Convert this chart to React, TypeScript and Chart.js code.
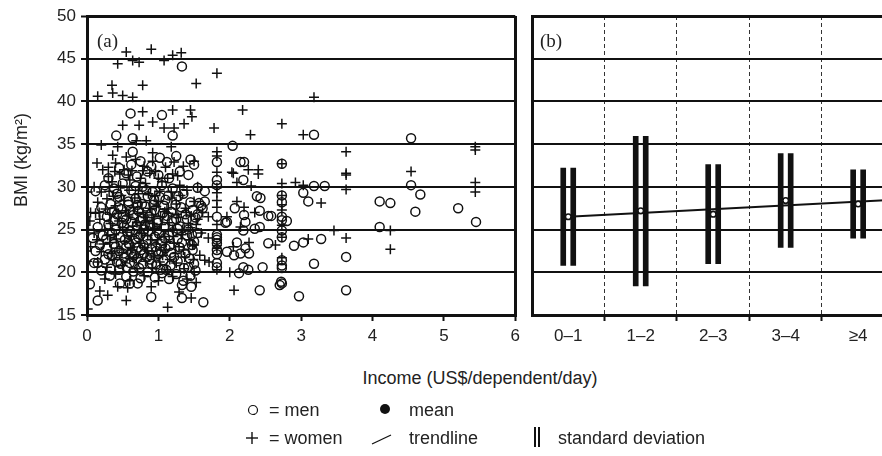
import React, { useEffect, useRef } from 'react';
import { Chart, registerables } from 'chart.js';

Chart.register(...registerables);

// ---------- Panel (a) data: income (US$/dependent/day) vs BMI ----------
const menPoints: [number, number][] = [
  [1.33, 44.1], [0.61, 38.6], [1.05, 38.4], [1.2, 36.0], [0.41, 36.0], [0.64, 35.7], [0.64, 34.1],
  [2.04, 34.8], [2.2, 32.9], [2.73, 32.7], [3.18, 36.1], [4.54, 35.7], [4.54, 30.2], [4.67, 29.1],
  [3.18, 30.1], [3.33, 30.1], [3.03, 29.3], [3.1, 28.3], [4.1, 28.3], [4.25, 28.1], [4.6, 27.1],
  [5.2, 27.5], [5.45, 25.9], [4.1, 25.3], [3.28, 23.9], [3.03, 23.5], [2.9, 23.1], [3.63, 21.8],
  [3.18, 21.0], [3.63, 17.9], [2.97, 17.2], [2.73, 18.7], [2.72, 18.9], [2.73, 29.0], [2.73, 28.2],
  [2.73, 26.5], [2.73, 26.1], [2.73, 24.9], [2.73, 24.1], [2.73, 21.4], [2.73, 20.8], [2.73, 20.5],
  [2.8, 26.0], [2.38, 28.9], [2.43, 28.7], [2.42, 27.2], [2.54, 26.6], [2.58, 26.6], [2.42, 25.3],
  [2.54, 23.4], [2.46, 20.6], [2.42, 17.9], [2.7, 18.5],
  [1.82, 32.9], [1.82, 30.8], [1.82, 30.2], [1.82, 26.5], [1.82, 24.4], [1.82, 24.1], [1.82, 23.8],
  [1.82, 23.4], [1.82, 22.6], [1.82, 22.1], [1.82, 21.1], [1.82, 20.6],
  [1.96, 22.4], [2.06, 22.0], [2.15, 22.2], [2.22, 22.8], [2.27, 22.2], [2.19, 24.9], [2.19, 20.6],
  [2.13, 19.9], [2.26, 20.3], [1.63, 16.5], [1.33, 17.0], [1.33, 18.5], [1.46, 18.3], [1.96, 25.9],
  [2.22, 25.9], [1.47, 23.2], [0.04, 18.6], [0.15, 16.7], [0.46, 18.7], [0.6, 18.7], [0.71, 18.7],
  [0.9, 17.1], [0.15, 21.1], [2.15, 32.9], [2.19, 30.8], [1.94, 25.8], [2.35, 25.1], [2.1, 23.5],
  [1.57, 28.1], [1.65, 28.3], [1.55, 26.8], [1.62, 27.5], [2.07, 27.5], [2.2, 26.7],
  [0.45, 32.2], [0.62, 32.6], [0.75, 33.0], [0.9, 32.4], [1.02, 33.4], [1.12, 32.9], [1.25, 33.6],
  [1.45, 33.2], [1.5, 32.6], [0.3, 31.0], [0.55, 31.6], [0.7, 31.2], [0.85, 31.8], [1.0, 31.4],
  [1.15, 31.0], [1.3, 31.8], [1.42, 31.4],
  [0.12, 29.5], [0.25, 30.2], [0.38, 29.8], [0.5, 30.4], [0.62, 29.6], [0.78, 30.0], [0.92, 29.4],
  [1.05, 30.2], [1.2, 29.8], [1.35, 29.2], [1.55, 29.9], [1.65, 29.5], [0.45, 28.8], [0.68, 28.6],
  [0.85, 28.9], [1.1, 28.5], [1.28, 28.9], [1.45, 28.2],
  [0.2, 27.6], [0.33, 28.0], [0.48, 27.4], [0.58, 27.9], [0.72, 27.2], [0.82, 27.7], [0.95, 27.3],
  [1.08, 27.8], [1.18, 27.1], [1.32, 27.6], [1.48, 27.3], [1.6, 27.8], [0.28, 26.5], [0.42, 26.8],
  [0.55, 26.2], [0.65, 26.7], [0.78, 26.3], [0.9, 26.9], [1.0, 26.1], [1.12, 26.6], [1.25, 26.2],
  [1.38, 26.8], [1.52, 26.4],
  [0.15, 25.3], [0.3, 25.6], [0.4, 25.0], [0.52, 25.4], [0.6, 24.8], [0.7, 25.5], [0.8, 25.0],
  [0.88, 25.6], [0.98, 24.9], [1.08, 25.3], [1.2, 24.7], [1.3, 25.4], [1.42, 25.0], [1.55, 24.6],
  [0.22, 24.3], [0.35, 24.6], [0.47, 24.1], [0.57, 24.5], [0.67, 23.9], [0.75, 24.4], [0.85, 23.8],
  [0.95, 24.2], [1.05, 23.7], [1.15, 24.3], [1.27, 23.9], [1.4, 24.3], [1.5, 23.6],
  [0.18, 23.2], [0.28, 22.8], [0.38, 23.3], [0.45, 22.5], [0.55, 23.0], [0.62, 22.3], [0.72, 22.9],
  [0.8, 22.2], [0.9, 22.7], [1.0, 22.1], [1.1, 22.8], [1.18, 22.3], [1.3, 22.9], [1.38, 22.2],
  [1.48, 22.6], [0.25, 21.5], [0.35, 21.9], [0.42, 21.2], [0.52, 21.7], [0.6, 21.1], [0.7, 21.6],
  [0.78, 21.0], [0.88, 21.5], [0.97, 20.9], [1.07, 21.4], [1.17, 20.8], [1.27, 21.3], [1.42, 20.6],
  [1.5, 21.0],
  [0.2, 20.2], [0.32, 19.6], [0.45, 20.3], [0.55, 19.5], [0.65, 20.1], [0.75, 19.3], [0.85, 20.0],
  [0.95, 19.4], [1.05, 19.9], [1.15, 19.2], [1.25, 19.8], [1.35, 19.0], [1.45, 19.6], [0.1, 21.1],
  [0.12, 22.5], [0.08, 24.0],
  [0.35, 27.1], [0.42, 29.2], [0.5, 26.5], [0.53, 23.8], [0.58, 28.3], [0.63, 25.9], [0.66, 22.0],
  [0.68, 30.1], [0.72, 24.1], [0.74, 26.0], [0.77, 28.0], [0.79, 23.2], [0.83, 29.6], [0.86, 24.8],
  [0.89, 22.0], [0.93, 27.9], [0.96, 23.0], [0.99, 25.8], [1.02, 28.8], [1.04, 22.4], [1.06, 26.9],
  [1.09, 24.0], [1.11, 20.3], [1.14, 29.0], [1.16, 23.1], [1.19, 26.0], [1.22, 21.8], [1.24, 27.9],
  [1.27, 25.1], [1.33, 23.5], [1.36, 20.5], [1.4, 26.2], [1.44, 21.6], [1.47, 24.4], [1.52, 20.2],
  [0.27, 23.9], [0.3, 22.1], [0.33, 20.4], [0.37, 26.0], [0.4, 23.0], [0.44, 27.6], [0.47, 21.0],
  [0.49, 25.8], [0.51, 22.2], [0.56, 20.6], [0.59, 23.3], [0.61, 27.3], [0.64, 21.8], [0.69, 23.5],
  [0.71, 27.9], [0.73, 20.5], [0.76, 22.6], [0.81, 25.6], [0.84, 21.8], [0.87, 26.5], [0.91, 21.0],
  [0.94, 28.5], [0.97, 22.5], [1.01, 24.5], [1.03, 20.3],
];

const womenPoints: [number, number][] = [
  [0.55, 45.8], [0.9, 46.1], [1.2, 45.4], [1.32, 45.7], [0.43, 44.4], [0.64, 44.8], [0.73, 44.6],
  [1.08, 44.8], [1.82, 43.3], [1.53, 42.1], [0.15, 40.6], [0.35, 41.9], [0.36, 41.0], [0.5, 40.7],
  [0.64, 40.5], [0.78, 41.9], [3.18, 40.5],
  [0.78, 38.8], [1.2, 39.0], [1.45, 39.0], [2.18, 39.0], [0.5, 37.2], [0.73, 37.2], [0.92, 37.6],
  [1.08, 36.9], [1.22, 36.9], [1.36, 37.4], [1.47, 38.2], [1.78, 36.9], [2.29, 36.1], [2.73, 37.4],
  [0.2, 34.9], [0.36, 33.7], [0.55, 33.5], [0.69, 35.4], [0.83, 35.4], [0.43, 34.7], [0.14, 32.8],
  [0.3, 32.3], [0.92, 34.0], [1.18, 34.7], [1.82, 34.1], [1.82, 33.6], [2.05, 31.6], [2.4, 32.0],
  [2.4, 31.5],
  [3.03, 36.1], [3.63, 34.1], [5.44, 34.7], [5.44, 34.3], [2.73, 32.7], [3.63, 31.4], [3.63, 31.6],
  [4.54, 31.8], [3.63, 29.7], [5.44, 30.5], [5.44, 29.4], [2.92, 30.5], [3.03, 30.2], [3.28, 28.1],
  [4.25, 24.9], [3.46, 24.9], [3.63, 24.0], [3.1, 23.9], [4.25, 22.7], [2.64, 23.2],
  [2.73, 30.4], [2.73, 29.0], [2.73, 27.9], [2.73, 27.3], [2.73, 24.1], [2.73, 21.7], [2.73, 25.5],
  [1.82, 31.7], [1.82, 29.9], [1.82, 29.3], [1.82, 28.4], [1.82, 27.6], [1.82, 25.6], [1.82, 23.1],
  [1.82, 20.3], [1.82, 22.8],
  [2.27, 23.5], [2.06, 17.9], [1.46, 17.0], [1.29, 17.7], [1.53, 18.8], [1.5, 23.2], [1.71, 21.2],
  [0.18, 17.8], [0.29, 17.3], [0.43, 18.3], [0.55, 16.7], [0.57, 18.2], [0.9, 18.3], [1.13, 15.9],
  [0.01, 15.7], [2.03, 31.7], [2.1, 30.5], [2.26, 32.0], [2.3, 30.1], [2.1, 28.3], [2.2, 27.6],
  [2.35, 27.0], [2.05, 23.0], [2.0, 20.0], [1.96, 26.5], [2.15, 25.3], [0.04, 26.0], [0.01, 29.4],
  [0.1, 30.0], [0.2, 29.4], [0.35, 30.6], [0.48, 29.0], [0.6, 30.8], [0.72, 29.2], [0.82, 30.4],
  [0.95, 29.0], [1.05, 30.6], [1.18, 29.4], [1.3, 30.2], [1.4, 29.6], [1.55, 30.0],
  [0.22, 32.0], [0.4, 32.8], [0.52, 32.0], [0.68, 33.2], [0.8, 32.4], [0.92, 33.0], [1.1, 32.3],
  [1.22, 32.9], [1.35, 32.4], [1.5, 33.0], [0.3, 31.2], [0.58, 31.4], [0.75, 31.0], [0.88, 31.6],
  [1.0, 31.0], [1.2, 31.5],
  [0.15, 28.2], [0.28, 28.6], [0.4, 27.8], [0.52, 28.4], [0.65, 27.6], [0.75, 28.2], [0.88, 27.5],
  [1.0, 28.3], [1.12, 27.4], [1.25, 28.0], [1.38, 27.5], [1.5, 28.3], [1.62, 27.0],
  [0.18, 26.2], [0.32, 26.8], [0.45, 26.0], [0.58, 26.6], [0.7, 25.8], [0.82, 26.4], [0.92, 25.7],
  [1.03, 26.5], [1.15, 25.8], [1.28, 26.4], [1.42, 25.7], [1.55, 26.2], [1.7, 26.5],
  [0.1, 24.6], [0.25, 25.0], [0.38, 24.4], [0.5, 25.2], [0.62, 24.2], [0.73, 24.9], [0.85, 24.3],
  [0.95, 25.1], [1.08, 24.2], [1.2, 25.0], [1.32, 24.4], [1.45, 25.2], [1.6, 24.6], [1.7, 24.0],
  [0.05, 23.0], [0.2, 22.4], [0.32, 23.5], [0.42, 22.8], [0.53, 23.6], [0.63, 22.6], [0.75, 23.4],
  [0.85, 22.5], [0.97, 23.3], [1.08, 22.6], [1.22, 23.4], [1.35, 22.6], [1.48, 23.2], [1.58, 22.0],
  [0.15, 21.2], [0.28, 20.6], [0.38, 21.5], [0.5, 20.8], [0.6, 21.6], [0.7, 20.4], [0.82, 21.3],
  [0.92, 20.5], [1.02, 21.2], [1.13, 20.3], [1.25, 21.1], [1.36, 20.4], [1.5, 20.0], [1.65, 21.4],
  [0.25, 19.2], [0.4, 19.8], [0.6, 19.0], [0.8, 19.6], [1.0, 19.0], [1.2, 19.5], [1.4, 19.2],
  [0.0, 22.5], [0.0, 21.3], [0.02, 25.0], [0.05, 27.0],
  [0.33, 25.7], [0.37, 28.9], [0.41, 23.9], [0.44, 26.9], [0.47, 30.1], [0.49, 22.3], [0.54, 27.2],
  [0.56, 24.7], [0.59, 29.6], [0.61, 22.9], [0.64, 25.4], [0.67, 28.7], [0.69, 21.7], [0.71, 26.9],
  [0.74, 30.0], [0.76, 24.6], [0.79, 27.0], [0.81, 22.9], [0.84, 25.9], [0.86, 29.2], [0.89, 23.8],
  [0.91, 26.7], [0.94, 21.8], [0.97, 27.7], [0.99, 23.8], [1.02, 29.5], [1.04, 25.6], [1.06, 22.0],
  [1.09, 27.1], [1.11, 23.5], [1.14, 26.9], [1.16, 21.5], [1.19, 28.7], [1.21, 24.2], [1.24, 22.2],
  [1.26, 26.8], [1.29, 23.0], [1.31, 29.0], [1.34, 25.0], [1.37, 21.8], [1.39, 27.0], [1.43, 23.8],
  [1.46, 26.6], [1.49, 21.5], [1.53, 25.6], [0.26, 27.4], [0.29, 24.3], [0.31, 29.5], [0.34, 22.2],
  [0.39, 31.8], [0.46, 31.5], [0.63, 31.9], [0.78, 31.9], [0.96, 31.8], [1.13, 31.0], [1.27, 31.3],
  [0.12, 26.9], [0.14, 23.8], [0.17, 27.0], [0.23, 23.3],
];

const incomeTicks = [0, 1, 2, 3, 4, 5, 6];
const bmiTicks = [15, 20, 25, 30, 35, 40, 45, 50];

// ---------- Panel (b) data: income groups ----------
const incomeGroups = ['0–1', '1–2', '2–3', '3–4', '≥4'];
const groupMeans = [26.5, 27.2, 26.8, 28.4, 28.0];
const sdLow = [20.8, 18.4, 21.0, 22.9, 24.0];
const sdHigh = [32.2, 35.9, 32.6, 33.9, 32.0];
const trendX = [0, 4.5];
const trendY = [26.5, 28.5];

const SANS = '"Liberation Sans", Arial, Helvetica, sans-serif';
const SERIF = '"Liberation Serif", "Times New Roman", serif';
const INK = '#111';
const TEXT = '#222';

function PanelA() {
  const ref = useRef<HTMLCanvasElement | null>(null);
  useEffect(() => {
    if (!ref.current) return;
    const chart = new Chart(ref.current, {
      type: 'scatter',
      data: {
        datasets: [
          {
            label: 'men',
            data: menPoints.map(([x, y]) => ({ x, y })),
            pointStyle: 'circle',
            pointRadius: 4.5,
            pointBorderWidth: 1.5,
            pointBorderColor: INK,
            pointBackgroundColor: 'rgba(0,0,0,0)',
          },
          {
            label: 'women',
            data: womenPoints.map(([x, y]) => ({ x, y })),
            pointStyle: 'cross',
            pointRadius: 5,
            pointBorderWidth: 1.5,
            pointBorderColor: INK,
            pointBackgroundColor: INK,
          },
        ],
      },
      options: {
        responsive: false,
        animation: false,
        devicePixelRatio: 1,
        layout: { padding: { top: 16, right: 6, left: 0, bottom: 0 } },
        plugins: { legend: { display: false }, tooltip: { enabled: false } },
        scales: {
          x: {
            type: 'linear',
            min: 0,
            max: 6,
            afterBuildTicks: (s: any) => { s.ticks = incomeTicks.map((v) => ({ value: v })); },
            afterFit: (s: any) => { s.height = 45; },
            grid: {
              color: (c: any) => (c.tick && c.tick.value === 6 ? INK : 'rgba(0,0,0,0)'),
              lineWidth: 3,
              tickColor: INK,
              tickWidth: 2,
              tickLength: 6,
            },
            border: { color: INK, width: 3 },
            ticks: { font: { family: SANS, size: 17 }, color: TEXT, padding: 5, maxRotation: 0, autoSkip: false },
          },
          y: {
            type: 'linear',
            min: 15,
            max: 50,
            afterBuildTicks: (s: any) => { s.ticks = bmiTicks.map((v) => ({ value: v })); },
            afterFit: (s: any) => { s.width = 87; },
            grid: {
              color: INK,
              lineWidth: (c: any) => (c.tick && c.tick.value === 50 ? 3 : 2),
              tickColor: INK,
              tickWidth: 2,
              tickLength: 6,
            },
            border: { color: INK, width: 3 },
            ticks: { font: { family: SANS, size: 17 }, color: TEXT, padding: 5 },
          },
        },
      },
    });
    return () => chart.destroy();
  }, []);
  return <canvas ref={ref} width={525} height={360} style={{ position: 'absolute', left: 0, top: 0 }} />;
}

function PanelB() {
  const ref = useRef<HTMLCanvasElement | null>(null);
  useEffect(() => {
    if (!ref.current) return;
    const barData = incomeGroups.map((_, i) => ({ x: i, y: [sdLow[i], sdHigh[i]] }));
    const boundaries = incomeGroups.slice(0, -1).map((_, i) => i + 0.5);
    const xTicks: number[] = [];
    for (let i = 0; i < incomeGroups.length; i++) {
      xTicks.push(i - 0.5, i);
    }
    xTicks.push(incomeGroups.length - 0.5);
    const isBoundary = (v: number) => boundaries.includes(v);
    const chart = new Chart(ref.current, {
      type: 'scatter',
      data: {
        datasets: [
          {
            type: 'scatter',
            label: 'mean',
            data: incomeGroups.map((_, i) => ({ x: i, y: groupMeans[i] })),
            pointStyle: 'circle',
            pointRadius: 2.8,
            pointBorderWidth: 1.6,
            pointBorderColor: INK,
            pointBackgroundColor: '#fff',
          } as any,
          {
            type: 'line',
            label: 'trendline',
            data: trendX.map((x, i) => ({ x, y: trendY[i] })),
            borderColor: INK,
            borderWidth: 2,
            pointRadius: 0,
            showLine: true,
            fill: false,
          } as any,
          {
            type: 'bar',
            label: 'sd-left',
            stack: 'L',
            data: barData,
            backgroundColor: INK,
            borderWidth: 0,
            barThickness: 5,
          } as any,
          {
            type: 'bar',
            label: 'sd-gap',
            stack: 'M',
            data: barData,
            backgroundColor: 'rgba(0,0,0,0)',
            borderWidth: 0,
            barThickness: 5,
          } as any,
          {
            type: 'bar',
            label: 'sd-right',
            stack: 'R',
            data: barData,
            backgroundColor: INK,
            borderWidth: 0,
            barThickness: 5,
          } as any,
        ],
      },
      options: {
        responsive: false,
        animation: false,
        devicePixelRatio: 1,
        layout: { padding: { top: 16, right: 5, left: 0, bottom: 0 } },
        plugins: { legend: { display: false }, tooltip: { enabled: false } },
        scales: {
          x: {
            type: 'linear',
            min: -0.5,
            max: incomeGroups.length - 0.5,
            offset: false,
            afterBuildTicks: (s: any) => { s.ticks = xTicks.map((v) => ({ value: v })); },
            afterFit: (s: any) => { s.height = 45; },
            grid: {
              offset: false,
              color: (c: any) => (c.tick && isBoundary(c.tick.value) ? '#333' : 'rgba(0,0,0,0)'),
              lineWidth: 1,
              tickColor: (c: any) => (c.tick && isBoundary(c.tick.value) ? INK : 'rgba(0,0,0,0)'),
              tickWidth: 2,
              tickLength: 6,
            },
            border: { color: INK, width: 3, dash: [4, 3] },
            ticks: {
              font: { family: SANS, size: 17 },
              color: TEXT,
              padding: 5,
              maxRotation: 0,
              autoSkip: false,
              callback: (v: any) => (Number.isInteger(v) ? incomeGroups[v] : ''),
            },
          },
          y: {
            type: 'linear',
            min: 15,
            max: 50,
            afterBuildTicks: (s: any) => { s.ticks = bmiTicks.map((v) => ({ value: v })); },
            afterFit: (s: any) => { s.width = 7; },
            grid: {
              color: INK,
              lineWidth: (c: any) => (c.tick && c.tick.value === 50 ? 3 : 2),
              drawTicks: false,
            },
            border: { color: INK, width: 3 },
            ticks: { display: false },
          },
        },
      },
    });
    return () => chart.destroy();
  }, []);
  return <canvas ref={ref} width={375} height={360} style={{ position: 'absolute', left: 525, top: 0 }} />;
}

const txt: React.CSSProperties = {
  position: 'absolute',
  fontFamily: SANS,
  fontSize: 18,
  color: TEXT,
  whiteSpace: 'nowrap',
  lineHeight: '20px',
};

export default function App() {
  return (
    <div
      style={{
        position: 'fixed',
        left: 0,
        top: 0,
        width: 882,
        height: 456,
        overflow: 'hidden',
        background: '#fff',
      }}
    >
      <PanelA />
      <PanelB />
      <div style={{ ...txt, fontFamily: SERIF, fontSize: 19, left: 97, top: 31 }}>(a)</div>
      <div style={{ ...txt, fontFamily: SERIF, fontSize: 19, left: 540, top: 31 }}>(b)</div>
      <div
        style={{
          ...txt,
          fontSize: 18,
          left: 21,
          top: 160,
          transform: 'translate(-50%, -50%) rotate(-90deg)',
        }}
      >
        BMI (kg/m²)
      </div>
      <div style={{ ...txt, left: 480, top: 368, transform: 'translateX(-50%)' }}>
        Income (US$/dependent/day)
      </div>
      {/* legend */}
      <svg style={{ position: 'absolute', left: 0, top: 0 }} width={882} height={456}>
        <circle cx={253} cy={410} r={4.5} fill="none" stroke={INK} strokeWidth={1.2} />
        <circle cx={385} cy={409} r={5} fill={INK} />
        <line x1={246} y1={438} x2={258} y2={438} stroke={INK} strokeWidth={1.4} />
        <line x1={252} y1={432} x2={252} y2={444} stroke={INK} strokeWidth={1.4} />
        <line x1={372} y1={444} x2={391} y2={435} stroke={INK} strokeWidth={1.3} />
        <line x1={535} y1={427} x2={535} y2={447} stroke={INK} strokeWidth={2} />
        <line x1={539} y1={427} x2={539} y2={447} stroke={INK} strokeWidth={2} />
      </svg>
      <div style={{ ...txt, left: 269, top: 400 }}>= men</div>
      <div style={{ ...txt, left: 409, top: 400 }}>mean</div>
      <div style={{ ...txt, left: 269, top: 428 }}>= women</div>
      <div style={{ ...txt, left: 409, top: 428 }}>trendline</div>
      <div style={{ ...txt, left: 558, top: 428 }}>standard deviation</div>
    </div>
  );
}
